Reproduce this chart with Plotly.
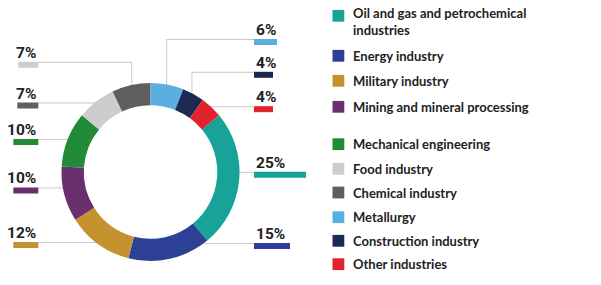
import math
import plotly.graph_objects as go

# ---------------- data ----------------
categories = [
    "Oil and gas and petrochemical industries",
    "Energy industry",
    "Military industry",
    "Mining and mineral processing",
    "Mechanical engineering",
    "Food industry",
    "Chemical industry",
    "Metallurgy",
    "Construction industry",
    "Other industries",
]
shares = [25, 15, 12, 10, 10, 7, 7, 6, 4, 4]
slice_colors = ["#17a398", "#2c4196", "#c4922f", "#6a2f6f", "#228b37",
                "#cdcdcd", "#5e5e5e", "#5aaee0", "#1b2a52", "#e1242b"]
legend_labels = [
    "Oil and gas and petrochemical<br>industries",
    "Energy industry",
    "Military industry",
    "Mining and mineral processing",
    "Mechanical engineering",
    "Food industry",
    "Chemical industry",
    "Metallurgy",
    "Construction industry",
    "Other industries",
]

# ---------------- layout constants ----------------
W, H = 601, 285
CX, CY, R = 150.5, 172.0, 89.0
HOLE = 0.75
LINE_COLOR = "#c9c9c9"
TEXT_COLOR = "#222222"
PCT_FONT = dict(family="Roboto", size=15.5, color=TEXT_COLOR, weight=700)
LEG_FONT = dict(family="Lato", size=13, color=TEXT_COLOR, weight="bold")

def px(x):
    return x / W

def py(y):
    return 1 - y / H

total = sum(shares)
# slices before the first category at 12 o'clock (Metallurgy, Construction, Other)
lead = sum(shares[7:])
rotation = 360.0 * lead / total

# start / end angle of each slice (deg, clockwise from top)
angles = {}
a = rotation
for c, v in zip(categories, shares):
    angles[c] = (a, a + 360.0 * v / total)
    a += 360.0 * v / total

# label slots: (text/bar category, leader target category, side, line_y, elbow, bar_len)
slots = [
    ("Metallurgy", "Metallurgy", "R", 39.5, True, 23),
    ("Construction industry", "Construction industry", "R", 72.3, True, 19),
    ("Other industries", "Other industries", "R", 106.7, False, 19),
    ("Oil and gas and petrochemical industries", "Oil and gas and petrochemical industries", "R", 172.3, False, 52),
    ("Energy industry", "Energy industry", "R", 243.5, False, 36),
    ("Food industry", "Chemical industry", "L", 62.3, True, 20),
    ("Chemical industry", "Food industry", "L", 103.0, False, 21),
    ("Mechanical engineering", "Mechanical engineering", "L", 139.5, False, 25),
    ("Mining and mineral processing", "Mining and mineral processing", "L", 188.0, False, 25),
    ("Military industry", "Military industry", "L", 242.5, False, 25),
]
R_X, L_X = 254.0, 38.3

fig = go.Figure()
fig.add_trace(go.Pie(
    labels=categories, values=shares, hole=HOLE, sort=False,
    direction="clockwise", rotation=rotation, textinfo="none",
    marker=dict(colors=slice_colors, line=dict(width=0)),
    showlegend=False,
    domain=dict(x=[px(CX - R), px(CX + R)], y=[py(CY + R), py(CY - R)]),
))

shapes, annotations = [], []
val = dict(zip(categories, shares))
col = dict(zip(categories, slice_colors))
Rl = R - 3
for cat, target, side, ly, elbow, blen in slots:
    a0, a1 = angles[target]
    mid = math.radians((a0 + a1) / 2)
    xe = R_X if side == "R" else L_X
    if elbow:
        xv = CX + Rl * math.sin(mid)
        yv = CY - Rl * math.cos(mid)
        path = f"M {px(xv)},{py(yv)} L {px(xv)},{py(ly)} L {px(xe)},{py(ly)}"
        shapes.append(dict(type="path", xref="paper", yref="paper", path=path,
                           line=dict(color=LINE_COLOR, width=1), layer="below"))
    else:
        dx = math.sqrt(max(Rl ** 2 - (ly - CY) ** 2, 0))
        xs = CX + dx if side == "R" else CX - dx
        shapes.append(dict(type="line", xref="paper", yref="paper",
                           x0=px(xs), y0=py(ly), x1=px(xe), y1=py(ly),
                           line=dict(color=LINE_COLOR, width=1), layer="below"))
    if side == "R":
        bx0, bx1 = R_X, R_X + blen
    else:
        bx0, bx1 = L_X - blen, L_X
    shapes.append(dict(type="rect", xref="paper", yref="paper",
                       x0=px(bx0), x1=px(bx1), y0=py(ly - 0.5), y1=py(ly + 5.5),
                       fillcolor=col[cat], line=dict(width=0)))
    annotations.append(dict(
        text=f"{val[cat]}%", xref="paper", yref="paper",
        x=px(R_X if side == "R" else L_X), y=py(ly - 9.5),
        xanchor="left" if side == "R" else "right", yanchor="middle",
        showarrow=False, font=PCT_FONT))

# legend (manual)
leg_y = [15.8, 55.8, 80.8, 106.8, 144.2, 168.8, 192.5, 217.2, 240.8, 264.2]
for lab, c, yc in zip(legend_labels, slice_colors, leg_y):
    shapes.append(dict(type="rect", xref="paper", yref="paper",
                       x0=px(332.5), x1=px(344.3), y0=py(yc - 5.9), y1=py(yc + 5.9),
                       fillcolor=c, line=dict(width=0)))
    ty = yc if "<br>" not in lab else 21.4
    annotations.append(dict(
        text=lab, xref="paper", yref="paper", x=px(351), y=py(ty),
        xanchor="left", yanchor="middle", align="left",
        showarrow=False, font=LEG_FONT))

fig.update_layout(
    width=W, height=H, margin=dict(l=0, r=0, t=0, b=0),
    paper_bgcolor="white", plot_bgcolor="white",
    shapes=shapes, annotations=annotations, showlegend=False,
)
fig.write_html("out.html", config={"displayModeBar": False},
               post_script="document.body.style.margin='0';")
